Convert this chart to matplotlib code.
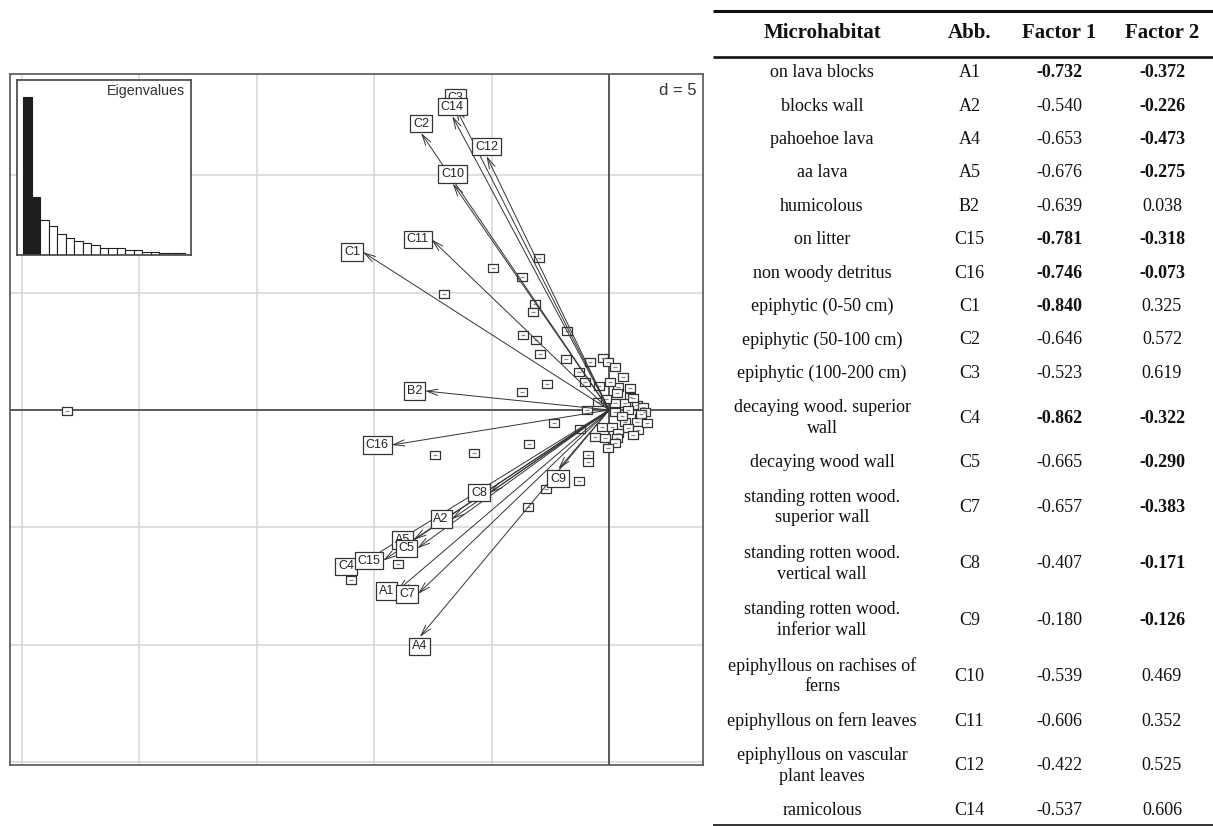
import numpy as np
import matplotlib.pyplot as plt
from matplotlib.path import Path

# ---- biplot data ----
arrow_labels = ["A1", "A2", "A4", "A5", "B2", "C1", "C2", "C3", "C4", "C5",
                "C7", "C8", "C9", "C10", "C11", "C12", "C14", "C15", "C16"]
arrow_x = [-9.03, -6.71, -8.06, -8.34, -7.84, -10.48, -8.01, -6.54, -10.74, -8.17,
           -8.14, -5.08, -2.17, -6.66, -7.56, -5.22, -6.68, -9.62, -9.26]
arrow_y = [-7.70, -4.65, -9.66, -5.53, 0.81, 6.72, 11.79, 12.87, -6.66, -5.89,
           -7.83, -3.52, -2.52, 9.64, 7.26, 10.81, 12.51, -6.41, -1.49]

site_x = [-23.06, -7.03, -4.96, -3.00, -3.72, -3.14, -3.25, -3.69, -3.11, -2.93,
          -1.80, -1.84, -2.65, -3.72, -1.27, -1.02, -0.44, -0.96, -2.35, -3.41,
          -7.42, -5.77, -1.25, -0.89, -0.89, -1.30, -2.71, -3.45, -8.98, -11.01,
          -0.82, -0.26, -0.04, 0.24, 0.60, 0.38, 0.88, 0.31, 0.88, 0.24,
          0.67, 1.17, 1.45, -0.47, 1.52, 0.81, 1.31, 1.17, 0.67, 0.24,
          -0.32, 0.10, 0.81, 0.38, -0.61, -0.18, 0.31, 1.23, 0.24, -0.07,
          1.59, 1.02, 1.35, 0.55, -0.15, 0.05, 1.00]
site_y = [-0.06, 4.94, 6.06, 6.45, 5.64, 4.50, 4.17, 3.19, 2.99, 2.37,
          3.38, 2.16, 1.12, 0.78, 1.63, 1.21, 1.04, 0.02, -0.55, -1.43,
          -1.90, -1.82, -0.79, -1.91, -2.21, -3.01, -3.38, -4.12, -6.57, -7.25,
          2.06, 2.20, 2.06, 1.84, 1.42, 0.99, 0.92, 0.71, 0.57, 0.29,
          0.29, 0.21, 0.14, 0.35, -0.07, 0.00, -0.34, -0.50, -0.50, -0.07,
          -0.71, -0.71, -0.78, -0.99, -1.14, -1.20, -1.20, -0.85, -1.42, -1.60,
          -0.57, 0.50, -0.15, -0.25, 0.45, 1.20, -1.05]

eigenvalues = [7.62, 2.78, 1.70, 1.39, 1.03, 0.84, 0.68, 0.60, 0.47, 0.32,
               0.32, 0.32, 0.24, 0.22, 0.16, 0.16, 0.11, 0.11, 0.11]

# ---- table data ----
habitats = ["on lava blocks", "blocks wall", "pahoehoe lava", "aa lava", "humicolous",
            "on litter", "non woody detritus", "epiphytic (0-50 cm)",
            "epiphytic (50-100 cm)", "epiphytic (100-200 cm)",
            "decaying wood. superior\nwall", "decaying wood wall",
            "standing rotten wood.\nsuperior wall", "standing rotten wood.\nvertical wall",
            "standing rotten wood.\ninferior wall", "epiphyllous on rachises of\nferns",
            "epiphyllous on fern leaves", "epiphyllous on vascular\nplant leaves",
            "ramicolous"]
abbrev = ["A1", "A2", "A4", "A5", "B2", "C15", "C16", "C1", "C2", "C3", "C4", "C5",
          "C7", "C8", "C9", "C10", "C11", "C12", "C14"]
factor1 = [-0.732, -0.540, -0.653, -0.676, -0.639, -0.781, -0.746, -0.840, -0.646,
           -0.523, -0.862, -0.665, -0.657, -0.407, -0.180, -0.539, -0.606, -0.422, -0.537]
factor2 = [-0.372, -0.226, -0.473, -0.275, 0.038, -0.318, -0.073, 0.325, 0.572,
           0.619, -0.322, -0.290, -0.383, -0.171, -0.126, 0.469, 0.352, 0.525, 0.606]
bold1 = [True, False, False, False, False, True, True, True, False, False,
         True, False, False, False, False, False, False, False, False]
bold2 = [True, True, True, True, False, True, True, False, False, False,
         True, True, True, True, True, False, False, False, False]

W, H = 1213, 826
fig = plt.figure(figsize=(W / 100, H / 100), dpi=100)

# ---- main ordination panel ----
ax = fig.add_axes([10 / W, 1 - 765 / H, 693 / W, 691 / H])
ax.set_xlim(-25.5, 3.99)
ax.set_ylim(-15.11, 14.30)
ax.set_xticks([])
ax.set_yticks([])
for s in ax.spines.values():
    s.set_color('#555555')
    s.set_linewidth(1.2)

for v in np.arange(-25, 5, 5):
    ax.axvline(v, color='#d6d6d6', lw=1.1, zorder=0)
for h in np.arange(-15, 15, 5):
    ax.axhline(h, color='#d6d6d6', lw=1.1, zorder=0)
ax.axhline(0, color='#444444', lw=1.2, zorder=1)
ax.axvline(0, color='#444444', lw=1.2, zorder=1)

# site boxes
rect = Path([(-1.3, -1), (1.3, -1), (1.3, 1), (-1.3, 1), (-1.3, -1)], closed=True)
ax.plot(site_x, site_y, ls='none', marker=rect, ms=7.2, mfc='white',
        mec='#333333', mew=0.9, zorder=2)
ax.plot(site_x, site_y, ls='none', marker='_', ms=3.4, mec='#8a8a8a', mew=0.9, zorder=2)

# arrows
for x, y in zip(arrow_x, arrow_y):
    ax.annotate('', xy=(x, y), xytext=(0, 0),
                arrowprops=dict(arrowstyle='->,head_length=0.8,head_width=0.22',
                                color='#333333', lw=0.7, shrinkA=0, shrinkB=0),
                zorder=3)

# arrow labels placed like ade4 (left / right / above / below the tip)
for lab, x, y in zip(arrow_labels, arrow_x, arrow_y):
    if abs(x) > abs(y):
        ha, va, off = ('right', 'center', (-2, 0)) if x < 0 else ('left', 'center', (2, 0))
    elif y > 0:
        ha, va, off = 'center', 'bottom', (0, 2.5)
    else:
        ha, va, off = 'center', 'top', (0, -2.5)
    ax.annotate(lab, xy=(x, y), xytext=off, textcoords='offset points',
                ha=ha, va=va, fontsize=9, family='Liberation Sans', color='#222222',
                bbox=dict(boxstyle='square,pad=0.22', fc='white', ec='#333333', lw=0.9),
                zorder=5)

ax.text(0.991, 0.987, "d = 5", transform=ax.transAxes, ha='right', va='top',
        fontsize=12, family='Liberation Sans', color='#333333', zorder=6)

# eigenvalue inset
axe = fig.add_axes([16.7 / W, 1 - 255 / H, 174.3 / W, 175 / H])
bar_colors = ['#1e1e1e'] * 2 + ['white'] * (len(eigenvalues) - 2)
axe.bar(range(len(eigenvalues)), eigenvalues, width=1, color=bar_colors,
        edgecolor='#1e1e1e', lw=0.8)
axe.set_xlim(-1.28, 19.22)
axe.set_ylim(0, max(eigenvalues) * 1.105)
axe.set_xticks([])
axe.set_yticks([])
for s in axe.spines.values():
    s.set_color('#444444')
    s.set_linewidth(1.2)
axe.text(0.966, 0.975, "Eigenvalues", transform=axe.transAxes, ha='right', va='top',
         fontsize=10.3, family='Liberation Sans', color='#333333')

# ---- table ----
tax = fig.add_axes([0, 0, 1, 1])
tax.set_xlim(0, W)
tax.set_ylim(H, 0)
tax.axis('off')
tax.patch.set_alpha(0)

col_x = [822, 969.5, 1059.5, 1162]
headers = ["Microhabitat", "Abb.", "Factor 1", "Factor 2"]
for cx, t in zip(col_x, headers):
    tax.text(cx, 33.5, t, ha='center', va='center', fontsize=15, fontweight='bold',
             family='Liberation Serif', color='#111111')

tax.plot([713, W], [11, 11], color='#111111', lw=2.2, solid_capstyle='butt')
tax.plot([713, W], [57, 57], color='#111111', lw=1.9, solid_capstyle='butt')
tax.plot([713, W], [825, 825], color='#111111', lw=1.2, solid_capstyle='butt')

top = 56
for name, ab, f1, f2, b1, b2 in zip(habitats, abbrev, factor1, factor2, bold1, bold2):
    h = 33.4 if name.count('\n') == 0 else 56.2
    cy = top + h / 2
    tax.text(col_x[0], cy, name, ha='center', va='center', fontsize=13,
             family='Liberation Serif', multialignment='center', linespacing=1.25,
             color='#111111')
    tax.text(col_x[1], cy, ab, ha='center', va='center', fontsize=13,
             family='Liberation Serif', color='#111111')
    tax.text(col_x[2], cy, f"{f1:.3f}", ha='center', va='center', fontsize=13,
             family='Liberation Serif', fontweight='bold' if b1 else 'normal',
             color='#111111')
    tax.text(col_x[3], cy, f"{f2:.3f}", ha='center', va='center', fontsize=13,
             family='Liberation Serif', fontweight='bold' if b2 else 'normal',
             color='#111111')
    top += h

fig.savefig("out.png", dpi=100)
